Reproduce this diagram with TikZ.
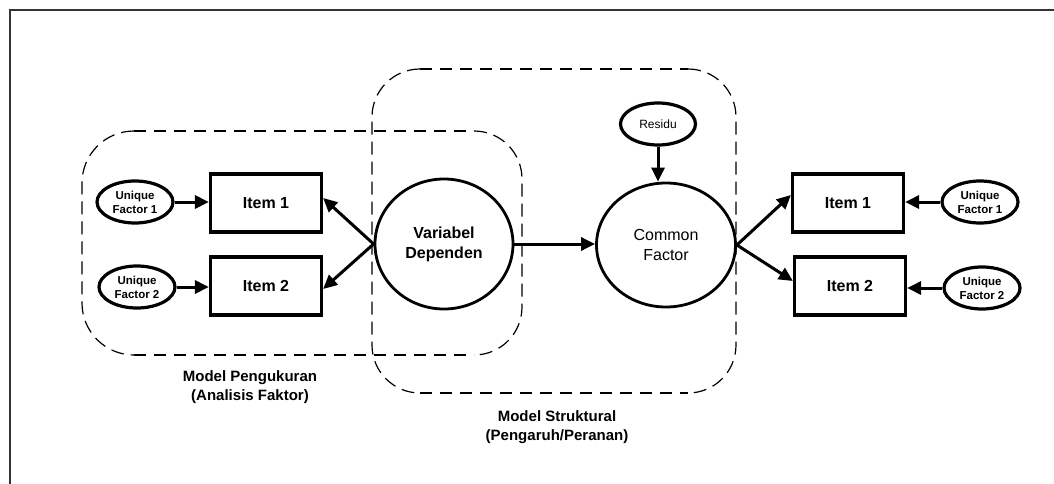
\documentclass[tikz,border=0pt]{standalone}
\usepackage{fontspec}
\setmainfont{Liberation Sans}
\usetikzlibrary{shapes.geometric,arrows.meta,calc}
\begin{document}
\begin{tikzpicture}[x=1pt,y=-1pt,
  itembox/.style={draw, line width=3.2pt, minimum width=111pt, minimum height=58pt, inner sep=0pt,
    font=\fontsize{16}{18}\selectfont\bfseries},
  uniq/.style={draw, ellipse, line width=3.2pt, minimum width=76pt, minimum height=42pt, inner sep=0pt,
    align=center, font=\fontsize{11.5}{14}\selectfont\bfseries},
  latent/.style={draw, ellipse, line width=2.8pt, inner sep=0pt, align=center,
    font=\fontsize{16}{20}\selectfont},
  arr/.style={line width=3pt, -{Triangle[length=14pt,width=13pt]}},
  thindash/.style={line width=1.2pt, dash pattern=on 13pt off 7pt},
  thickdash/.style={line width=2.8pt, dash pattern=on 12pt off 8pt},
  lbl/.style={align=center, font=\fontsize{15}{19}\selectfont\bfseries}
]
\useasboundingbox (0,0) rectangle (1054,484);
% frame
\draw[line width=1.2pt, black!80] (10,484) -- (10,10) -- (1054,10);

% left region (Model Pengukuran)
\draw[thindash, rounded corners=52pt] (134,131) -- (82,131) -- (82,355) -- (134,355);
\draw[thindash, rounded corners=48pt] (474,131) -- (522,131) -- (522,355) -- (474,355);
\draw[thickdash] (134,131) -- (474,131);
\draw[thickdash] (134,355) -- (474,355);

% right region (Model Struktural)
\draw[thindash, rounded corners=48pt] (420,69) -- (372,69) -- (372,393) -- (420,393);
\draw[thindash, rounded corners=48pt] (688,69) -- (736,69) -- (736,393) -- (688,393);
\draw[thickdash] (420,69) -- (688,69);
\draw[thickdash] (420,393) -- (688,393);

% nodes
\node[uniq] (uL1) at (135,202) {Unique\\Factor 1};
\node[uniq] (uL2) at (137,287) {Unique\\Factor 2};
\node[itembox] (iL1) at (266,203) {Item 1};
\node[itembox] (iL2) at (266,286) {Item 2};
\node[latent, minimum width=138pt, minimum height=130pt, font=\fontsize{16}{20}\selectfont\bfseries] (vd) at (444,244) {Variabel\\Dependen};
\node[latent, minimum width=139pt, minimum height=124pt] (cf) at (666,245) {Common\\Factor};
\node[uniq, minimum width=75pt, minimum height=42pt, font=\fontsize{12}{14}\selectfont] (res) at (658,124) {Residu};
\node[itembox] (iR1) at (848,203) {Item 1};
\node[itembox] (iR2) at (850,286) {Item 2};
\node[uniq] (uR1) at (980,202) {Unique\\Factor 1};
\node[uniq] (uR2) at (982,288) {Unique\\Factor 2};

% connectors
\draw[arr] (uL1.east) -- (uL1.east -| iL1.west);
\draw[arr] (uL2.east) -- (uL2.east -| iL2.west);
\draw[arr] (vd.west) -- ($(iL1.east)+(0,-5)$);
\draw[arr] (vd.west) -- ($(iL2.east)+(0,3)$);
\draw[arr] (vd.east) -- (vd.east -| cf.west);
\draw[arr] (res.south) -- (res.south |- cf.north);
\draw[arr] (cf.east) -- ($(iR1.west)+(0,-8)$);
\draw[arr] (cf.east) -- ($(iR2.west)+(0,-5)$);
\draw[arr] (uR1.west) -- (uR1.west -| iR1.east);
\draw[arr] (uR2.west) -- (uR2.west -| iR2.east);

% labels
\node[lbl] (lm) at (250,387) {Model Pengukuran\\(Analisis Faktor)};
\node[lbl] (ls) at (557,427) {Model Struktural\\(Pengaruh/Peranan)};
\end{tikzpicture}
\end{document}
